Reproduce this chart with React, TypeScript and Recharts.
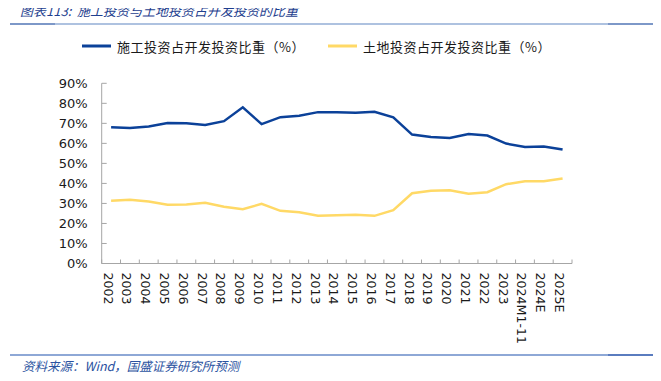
import React from 'react';
import { LineChart, Line, XAxis, YAxis, Legend } from 'recharts';

const categories = ['2002','2003','2004','2005','2006','2007','2008','2009','2010','2011','2012','2013','2014','2015','2016','2017','2018','2019','2020','2021','2022','2023','2024M1-11','2024E','2025E'];
const constructionShare = [68.1, 67.7, 68.4, 70.2, 70.1, 69.2, 71.1, 78.0, 69.6, 73.1, 73.8, 75.6, 75.5, 75.3, 75.8, 73.0, 64.4, 63.2, 62.7, 64.7, 63.9, 59.9, 58.2, 58.4, 56.9];
const landShare = [31.3, 31.8, 31.0, 29.3, 29.5, 30.3, 28.3, 27.1, 29.8, 26.3, 25.6, 23.8, 24.1, 24.3, 23.8, 26.6, 35.1, 36.3, 36.6, 34.8, 35.6, 39.6, 41.1, 41.1, 42.5];
const yTicks = [0, 10, 20, 30, 40, 50, 60, 70, 80, 90];
const seriesNames = ['施工投资占开发投资比重（%）', '土地投资占开发投资比重（%）'];
const titleText = '图表113:  施工投资与土地投资占开发投资的比重';
const sourceText = '资料来源：Wind，国盛证券研究所预测';

const data = categories.map((c, i) => ({ cat: c, a: constructionShare[i], b: landShare[i] }));

const AXIS = '#a6a6a6';
const BLUE = '#0b4199';
const YELLOW = '#ffd966';
const seriesColors = [BLUE, YELLOW];
const CJK = '"Noto Sans CJK SC", "Noto Sans", sans-serif';
const X_MARGIN = 9;
const Y_MARGIN = 14;

const XTick = (props: any) => {
  const { x, y, payload, index, visibleTicksCount } = props;
  const half = payload && payload.offset ? payload.offset : 9.4;
  const axisY = y - X_MARGIN;
  const isLast = index === (visibleTicksCount ?? categories.length) - 1;
  return (
    <g>
      <line x1={x - half} x2={x - half} y1={axisY} y2={axisY - 4} stroke={AXIS} strokeWidth={1} />
      {isLast && <line x1={x + half} x2={x + half} y1={axisY} y2={axisY - 4} stroke={AXIS} strokeWidth={1} />}
      <text
        transform={`translate(${x - 3},${y}) rotate(90)`}
        textAnchor="start"
        dominantBaseline="central"
        fontFamily="DejaVu Sans, Verdana, sans-serif"
        fontSize={12.6}
        fill="#1a1a1a"
      >
        {payload.value}
      </text>
    </g>
  );
};

const YTick = (props: any) => {
  const { x, y, payload } = props;
  const axisX = x + Y_MARGIN;
  return (
    <g>
      <line x1={axisX} x2={axisX + 5} y1={y} y2={y} stroke={AXIS} strokeWidth={1} />
      <text x={x} y={y} textAnchor="end" dominantBaseline="central" fontFamily="DejaVu Sans, Verdana, sans-serif" fontSize={13} fill="#1a1a1a">
        {`${payload.value}%`}
      </text>
    </g>
  );
};

const legendPos = [82, 328];

const LegendContent = () => {
  return (
    <div style={{ position: 'relative', width: 661, height: 20 }}>
      {seriesNames.map((name, i) => (
        <div key={i} style={{ position: 'absolute', left: legendPos[i], top: 0, display: 'flex', alignItems: 'center', height: 20 }}>
          <svg width={30} height={20}><line x1={0} x2={29} y1={10} y2={10} stroke={seriesColors[i]} strokeWidth={3} /></svg>
          <span style={{ marginLeft: 5, fontFamily: CJK, fontSize: 13, letterSpacing: 0.5, color: '#1a1a1a', whiteSpace: 'nowrap' }}>{name}</span>
        </div>
      ))}
    </div>
  );
};

export default function App() {
  return (
    <div style={{ position: 'relative', width: 661, height: 381, margin: -8, background: '#fff', overflow: 'hidden' }}>
      <div style={{ position: 'absolute', left: 20, top: 1, fontFamily: CJK, fontStyle: 'italic', fontSize: 13, color: '#1f3f8f', whiteSpace: 'pre' }}>{titleText}</div>
      <div style={{ position: 'absolute', left: 10, top: 23, width: 644, height: 2, background: '#aec2e0' }} />
      <div style={{ position: 'absolute', left: 10, top: 23, width: 45, height: 2, background: '#7d98c8' }} />
      <div style={{ position: 'absolute', left: 608, top: 23, width: 46, height: 2, background: '#7d98c8' }} />
      <div style={{ position: 'absolute', left: 10, top: 354, width: 644, height: 1.5, background: '#8ea8d6' }} />
      <div style={{ position: 'absolute', left: 608, top: 354, width: 46, height: 1.5, background: '#5a7cbf' }} />
      <div style={{ position: 'absolute', left: 22, top: 356, fontFamily: CJK, fontStyle: 'italic', fontSize: 12.5, color: '#2a52a0', whiteSpace: 'pre' }}>{sourceText}</div>
      <div style={{ position: 'absolute', left: 0, top: 0 }}>
        <LineChart width={661} height={381} data={data} margin={{ top: 83.3, right: 89, bottom: 0, left: 0 }}>
          <XAxis
            dataKey="cat"
            scale="band"
            interval={0}
            height={117.5}
            tickLine={false}
            tickSize={0}
            tickMargin={X_MARGIN}
            axisLine={{ stroke: AXIS }}
            tick={<XTick />}
          />
          <YAxis
            domain={[0, 90]}
            ticks={yTicks}
            interval={0}
            width={101.7}
            tickLine={false}
            tickSize={0}
            tickMargin={Y_MARGIN}
            axisLine={{ stroke: AXIS }}
            tick={<YTick />}
          />
          <Legend verticalAlign="middle" align="center" layout="horizontal" content={<LegendContent />} wrapperStyle={{ position: 'absolute', top: 36, left: 0, width: 661, height: 20 }} />
          <Line type="linear" dataKey="a" name={seriesNames[0]} stroke={BLUE} strokeWidth={2.5} dot={false} isAnimationActive={false} />
          <Line type="linear" dataKey="b" name={seriesNames[1]} stroke={YELLOW} strokeWidth={2.5} dot={false} isAnimationActive={false} />
        </LineChart>
      </div>
    </div>
  );
}
